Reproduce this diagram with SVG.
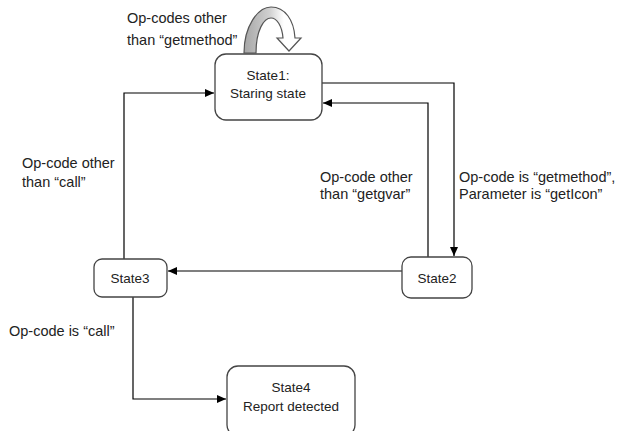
<svg xmlns="http://www.w3.org/2000/svg" width="624" height="431" viewBox="0 0 624 431">
<defs>
<marker id="ah" markerWidth="10" markerHeight="8" refX="9" refY="4" orient="auto" markerUnits="userSpaceOnUse">
<path d="M0,0 L9,4 L0,8 Z" fill="#000"/>
</marker>
<linearGradient id="g" x1="0" y1="0" x2="1" y2="0">
<stop offset="0" stop-color="#a6a6a6"/>
<stop offset="0.45" stop-color="#d0d0d0"/>
<stop offset="0.7" stop-color="#ffffff"/>
</linearGradient>
<style>
.box{fill:#fff;stroke:#444;stroke-width:1.3}
.t{font-family:"Liberation Sans",Arial,sans-serif;font-size:13.5px;fill:#222}
.lbl{font-family:"Liberation Sans",Arial,sans-serif;font-size:14.5px;fill:#222}
.c{fill:none;stroke:#000;stroke-width:1.2}
</style>
</defs>
<rect width="624" height="431" fill="#fff"/>
<g id="connectors">
<polyline class="c" points="322,83 454,83 454,256" marker-end="url(#ah)"/>
<polyline class="c" points="428,257 428,103 323,103" marker-end="url(#ah)"/>
<polyline class="c" points="402,271 168,271" marker-end="url(#ah)"/>
<polyline class="c" points="124,259 124,93 214,93" marker-end="url(#ah)"/>
<polyline class="c" points="133,297 133,399 226,399" marker-end="url(#ah)"/>
<path id="selfloop" d="M244,53 C244,26 258,7 271,7 C285,7 294,20 295,38 L301,38 L289,51 L277,38 L283,38 C282,26 277,18 271,18 C264,18 256,30 256,53 Z" fill="url(#g)" stroke="#555" stroke-width="1.2"/>
</g>
<g id="state1">
<rect class="box" x="215" y="54" width="107" height="66" rx="11"/>
<text class="t" x="268" y="80" text-anchor="middle">State1:</text>
<text class="t" x="268" y="98" text-anchor="middle">Staring state</text>
</g>
<g id="state2">
<rect class="box" x="402" y="257" width="70" height="41" rx="9"/>
<text class="t" x="437" y="283" text-anchor="middle">State2</text>
</g>
<g id="state3">
<rect class="box" x="94" y="259" width="73" height="38" rx="8"/>
<text class="t" x="130" y="283" text-anchor="middle">State3</text>
</g>
<g id="state4">
<rect class="box" x="227" y="366" width="128" height="70" rx="11"/>
<text class="t" x="291" y="392" text-anchor="middle">State4</text>
<text class="t" x="291" y="411" text-anchor="middle">Report detected</text>
</g>
<g id="labels">
<text class="lbl" x="127" y="23">Op-codes other</text>
<text class="lbl" x="127" y="45">than “getmethod”</text>
<text class="lbl" x="320" y="182">Op-code other</text>
<text class="lbl" x="320" y="199">than “getgvar”</text>
<text class="lbl" x="459" y="182">Op-code is “getmethod”,</text>
<text class="lbl" x="459" y="199">Parameter is “getIcon”</text>
<text class="lbl" x="22" y="168">Op-code other</text>
<text class="lbl" x="22" y="187">than “call”</text>
<text class="lbl" x="9" y="336">Op-code is “call”</text>
</g>
</svg>
